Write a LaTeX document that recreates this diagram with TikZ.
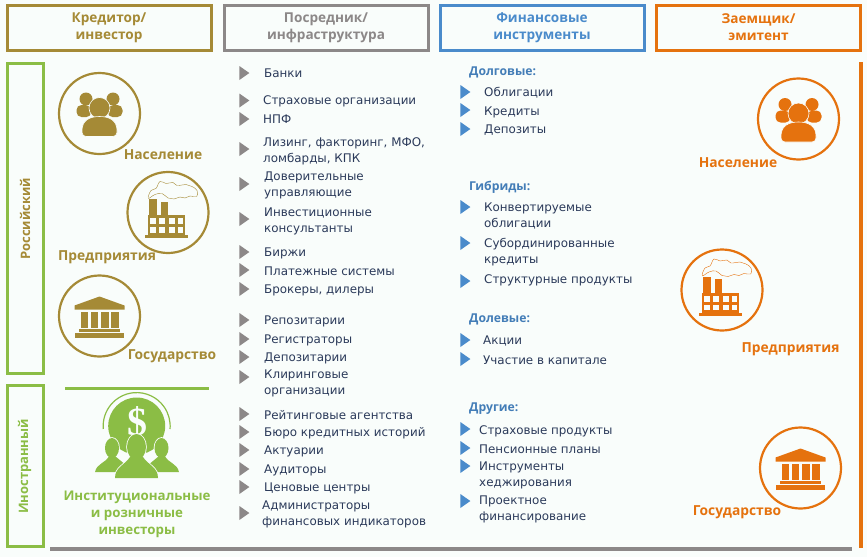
\documentclass[tikz,border=0pt]{standalone}
\usepackage{fontspec}
\setmainfont{DejaVu Sans}
\newfontfamily\heavyfont{Open Sans}
\newfontfamily\dollarfont{Liberation Serif}
\usetikzlibrary{shapes.geometric}

\definecolor{lendcol}{HTML}{A58A36}
\definecolor{graycol}{HTML}{8C8888}
\definecolor{bluecol}{HTML}{4A8BCB}
\definecolor{orangecol}{HTML}{E5720E}
\definecolor{greencol}{HTML}{8BBD45}
\definecolor{inkcol}{HTML}{2B3A5A}
\definecolor{paper}{HTML}{F9FDFB}

\tikzset{
  headbox/.style={draw=#1, line width=3pt, text=#1, font=\fontsize{13.6}{17}\selectfont\heavyfont\bfseries, align=center, inner sep=0pt, minimum height=45pt, minimum width=204pt},
  sidebox/.style={draw=greencol, line width=3pt, minimum width=36pt, inner sep=0pt},
  sidelabel/.style={text=#1, font=\fontsize{13}{15}\selectfont\heavyfont\bfseries, rotate=90},
  ring/.style={circle, draw=#1, line width=2.2pt, minimum size=81pt, inner sep=0pt},
  actor/.style={text=#1, font=\fontsize{13.8}{15}\selectfont\heavyfont\bfseries},
  item/.style={anchor=west, text=inkcol, align=left, inner sep=0pt, yshift=-1pt, font=\fontsize{11.9}{15.8}\selectfont},
  grouptitle/.style={anchor=west, text=bluecol!90!black, inner sep=0pt, yshift=-1pt, font=\fontsize{12.2}{16}\selectfont\heavyfont\bfseries},
  tickgray/.style={isosceles triangle, isosceles triangle apex angle=70, fill=graycol, inner sep=0pt, minimum height=7pt, minimum width=14pt},
  tickblue/.style={tickgray, fill=bluecol},
  pics/peopleicon/.style={code={
    \fill[#1] (-13.5,-14.5) circle [radius=6.5];
    \fill[#1] (13.5,-14.5) circle [radius=6.5];
    \fill[#1, rounded corners=5pt] (-23,3.5) -- (-23,-8.5) -- (-9,-8.5) -- (-8,3.5) -- cycle;
    \fill[#1, rounded corners=5pt] (23,3.5) -- (23,-8.5) -- (9,-8.5) -- (8,3.5) -- cycle;
    \filldraw[fill=#1, draw=paper, line width=0.6pt] (0,-5.5) circle [radius=10.5];
    \filldraw[fill=#1, draw=paper, line width=0.6pt] (-17.5,17) .. controls (-17.5,7) and (-10,3) .. (0,3) .. controls (10,3) and (17.5,7) .. (17.5,17) [rounded corners=4pt] -- (17.5,23) -- (-17.5,23) [sharp corners] -- cycle;
  }},
  pics/factoryicon/.style={code={
    \draw[#1, line width=0.4pt] plot[smooth cycle, tension=0.7] coordinates {(-19.7,-14.2) (-17,-22) (-12,-24) (-8,-31) (-2,-29) (5,-30) (9,-27) (18,-28) (24,-26) (29,-22) (28.7,-16) (22,-16.5) (17,-14.5) (12,-15.5) (6,-13.5) (0,-14.5) (-6,-19) (-13,-18)};
    \fill[#1] (-19,-13.5) rectangle (-11,5);
    \fill[#1] (-7,-11) rectangle (-0.5,5);
    \fill[#1] (-20,2.5) rectangle (17,22.5);
    \fill[#1] (-23,22.5) rectangle (20,25.5);
    \fill[paper] (-18.3,5.8) rectangle (-12.3,11.5);
    \fill[paper] (-8.6,5.8) rectangle (-2.6,11.5);
    \fill[paper] (1,5.8) rectangle (7,11.5);
    \fill[paper] (10,5.8) rectangle (15.3,11.5);
    \fill[paper] (-18.3,14.8) rectangle (-12.3,20.2);
    \fill[paper] (-8.6,14.8) rectangle (-2.6,20.2);
    \fill[paper] (1,14.8) rectangle (7,20.2);
    \fill[paper] (10,14.8) rectangle (15.3,20.2);
  }},
  pics/templeicon/.style={code={
    \fill[#1] (0,-19.5) -- (25,-10.5) -- (25,-6.5) -- (-25,-6.5) -- (-25,-10.5) -- cycle;
    \fill[#1] (-19,-4.5) rectangle (-11.5,11.5);
    \fill[#1] (-9,-4.5) rectangle (-1.5,11.5);
    \fill[#1] (1.5,-4.5) rectangle (9,11.5);
    \fill[#1] (11.5,-4.5) rectangle (19,11.5);
    \fill[#1] (-20.5,12.5) rectangle (20.5,16);
    \fill[#1] (-24.5,17) rectangle (24.5,22);
  }},
}

\begin{document}
\begin{tikzpicture}[x=1pt, y=-1pt]
  \fill[paper] (0,0) rectangle (867,557);
  \useasboundingbox (0,0) rectangle (867,557);

  % Column heads
  \node[headbox=lendcol] (lender) at (109,27.5) {\raisebox{-2pt}{Кредитор/}\\\raisebox{-2pt}{инвестор}};
  \node[headbox=graycol] (broker) at (326,27.5) {\raisebox{-2pt}{Посредник/}\\\raisebox{-2pt}{инфраструктура}};
  \node[headbox=bluecol] (instr) at (542,27.5) {\raisebox{-2pt}{Финансовые}\\\raisebox{-2pt}{инструменты}};
  \node[headbox=orangecol] (issuer) at (758.5,27.5) {\raisebox{-2pt}{Заемщик/}\\\raisebox{-2pt}{эмитент}};

  % Side boxes and rules
  \node[sidebox, minimum height=310pt] (rusbox) at (25,218.5) {};
  \node[sidebox, minimum height=161pt] (forbox) at (25,466) {};
  \node[sidelabel=lendcol] (ruslabel) at (25,219) {Российский};
  \node[sidelabel=greencol] (forlabel) at (24.5,466.5) {Иностранный};
  \fill[orangecol] (859,62) rectangle (863,548);
  \fill[graycol] (50,547) rectangle (852,551);
  \fill[greencol] (65,387) rectangle (209,390);

  % Lender side
  \node[ring=lendcol] (lpeople) at (99.5,113.5) {};
  \node[ring=lendcol] (lfactory) at (168,212.5) {};
  \node[ring=lendcol] (ltemple) at (99.5,316) {};
  \pic at (lpeople) {peopleicon=lendcol};
  \pic at (lfactory) {factoryicon=lendcol};
  \pic at (ltemple) {templeicon=lendcol};
  \node[actor=lendcol] (lpeoplet) at (163,155) {Население};
  \node[actor=lendcol] (lfactoryt) at (107,257) {Предприятия};
  \node[actor=lendcol] (ltemplet) at (172,356) {Государство};

  % Foreign investors
  \draw[greencol, line width=1.2pt] (103.3,429) arc [start angle=175, end angle=365, radius=33.5];
  \fill[greencol] (136.7,426) circle [radius=28.5];
  \node[text=paper, font=\fontsize{40}{40}\selectfont\dollarfont\bfseries] (dollar) at (137,423) {\$};
  \draw[paper, line width=1.6pt] (112,448) ellipse [x radius=7, y radius=10];
  \draw[paper, line width=1.6pt] (161.5,448) ellipse [x radius=7, y radius=10];
  \fill[greencol] (112,448) ellipse [x radius=7, y radius=10];
  \fill[greencol] (161.5,448) ellipse [x radius=7, y radius=10];
  \fill[greencol] (95,472) .. controls (97,463) and (106,463) .. (109,456) -- (115,456) -- (127,466) -- (116,472) -- cycle;
  \fill[greencol] (179,472) .. controls (177,463) and (168,463) .. (165,456) -- (159,456) -- (147,466) -- (158,472) -- cycle;
  \draw[paper, line width=1.6pt] (136.5,447) ellipse [x radius=9.5, y radius=13];
  \draw[paper, line width=1.6pt] (115,478) .. controls (115,467) and (125,465) .. (130,457) -- (143,457) .. controls (148,465) and (158,467) .. (158,478) -- cycle;
  \fill[greencol] (136.5,447) ellipse [x radius=9.5, y radius=13];
  \fill[greencol] (115,478) .. controls (115,467) and (125,465) .. (130,457) -- (143,457) .. controls (148,465) and (158,467) .. (158,478) -- cycle;
  \node[actor=greencol, align=center, font=\fontsize{13.3}{17}\selectfont\heavyfont\bfseries] (fort) at (137,514) {Институциональные\\и розничные\\инвесторы};

  % Issuer side
  \node[ring=orangecol] (rpeople) at (798.5,119) {};
  \node[ring=orangecol] (rfactory) at (722,290) {};
  \node[ring=orangecol] (rtemple) at (800.5,468) {};
  \pic at (rpeople) {peopleicon=orangecol};
  \pic at (rfactory) {factoryicon=orangecol};
  \pic at (rtemple) {templeicon=orangecol};
  \node[actor=orangecol] (rpeoplet) at (738,163) {Население};
  \node[actor=orangecol] (rfactoryt) at (790.5,349) {Предприятия};
  \node[actor=orangecol] (rtemplet) at (737,512) {Государство};

  % Intermediaries
  \node[tickgray] (g1) at (243,73) {};
  \node[item] (m1) at (264,72) {Банки};
  \node[tickgray] (g2) at (243,100.5) {};
  \node[item] (m2) at (263,100) {Страховые организации};
  \node[tickgray] (g3) at (243,119) {};
  \node[item] (m3) at (263,118) {НПФ};
  \node[tickgray] (g4) at (243,149) {};
  \node[item] (m4) at (263,150) {Лизинг, факторинг, МФО,\\ломбарды, КПК};
  \node[tickgray] (g5) at (243,184) {};
  \node[item] (m5) at (264,184.5) {Доверительные\\управляющие};
  \node[tickgray] (g6) at (243,219) {};
  \node[item] (m6) at (264,220.5) {Инвестиционные\\консультанты};
  \node[tickgray] (g7) at (243,252) {};
  \node[item] (m7) at (264,252) {Биржи};
  \node[tickgray] (g8) at (243,270) {};
  \node[item] (m8) at (264,270) {Платежные системы};
  \node[tickgray] (g9) at (243,289) {};
  \node[item] (m9) at (264,289) {Брокеры, дилеры};
  \node[tickgray] (g10) at (243,320) {};
  \node[item] (m10) at (264,320) {Репозитарии};
  \node[tickgray] (g11) at (243,339) {};
  \node[item] (m11) at (264,339) {Регистраторы};
  \node[tickgray] (g12) at (243,357) {};
  \node[item] (m12) at (264,357) {Депозитарии};
  \node[tickgray] (g13) at (243,377) {};
  \node[item] (m13) at (264,382.5) {Клиринговые\\организации};
  \node[tickgray] (g14) at (243,414) {};
  \node[item] (m14) at (264,414) {Рейтинговые агентства};
  \node[tickgray] (g15) at (243,432) {};
  \node[item] (m15) at (264,432) {Бюро кредитных историй};
  \node[tickgray] (g16) at (243,450) {};
  \node[item] (m16) at (264,450) {Актуарии};
  \node[tickgray] (g17) at (243,469) {};
  \node[item] (m17) at (264,469) {Аудиторы};
  \node[tickgray] (g18) at (243,487) {};
  \node[item] (m18) at (264,487) {Ценовые центры};
  \node[tickgray] (g19) at (243,513) {};
  \node[item] (m19) at (262,513.5) {Администраторы\\финансовых индикаторов};

  % Instruments
  \node[grouptitle] (debt) at (469,71) {Долговые:};
  \node[tickblue] (b1) at (464,92) {};
  \node[item] (d1) at (484,92) {Облигации};
  \node[tickblue] (b2) at (464,110) {};
  \node[item] (d2) at (484,111) {Кредиты};
  \node[tickblue] (b3) at (464,129) {};
  \node[item] (d3) at (484,129) {Депозиты};

  \node[grouptitle] (hybrid) at (469,186) {Гибриды:};
  \node[tickblue] (b4) at (464,207) {};
  \node[item] (h1) at (484,215) {Конвертируемые\\облигации};
  \node[tickblue] (b5) at (464,243) {};
  \node[item] (h2) at (484,251) {Субординированные\\кредиты};
  \node[tickblue] (b6) at (464,281) {};
  \node[item] (h3) at (484,279) {Структурные продукты};

  \node[grouptitle] (equity) at (469,318) {Долевые:};
  \node[tickblue] (b7) at (464,340) {};
  \node[item] (e1) at (483,340) {Акции};
  \node[tickblue] (b8) at (464,359) {};
  \node[item] (e2) at (483,359) {Участие в капитале};

  \node[grouptitle] (other) at (469,408) {Другие:};
  \node[tickblue] (b9) at (464,429) {};
  \node[item] (o1) at (479,430) {Страховые продукты};
  \node[tickblue] (b10) at (464,448) {};
  \node[item] (o2) at (479,448) {Пенсионные планы};
  \node[tickblue] (b11) at (464,466) {};
  \node[item] (o3) at (479,474) {Инструменты\\хеджирования};
  \node[tickblue] (b12) at (464,501) {};
  \node[item] (o4) at (479,508) {Проектное\\финансирование};
\end{tikzpicture}
\end{document}
